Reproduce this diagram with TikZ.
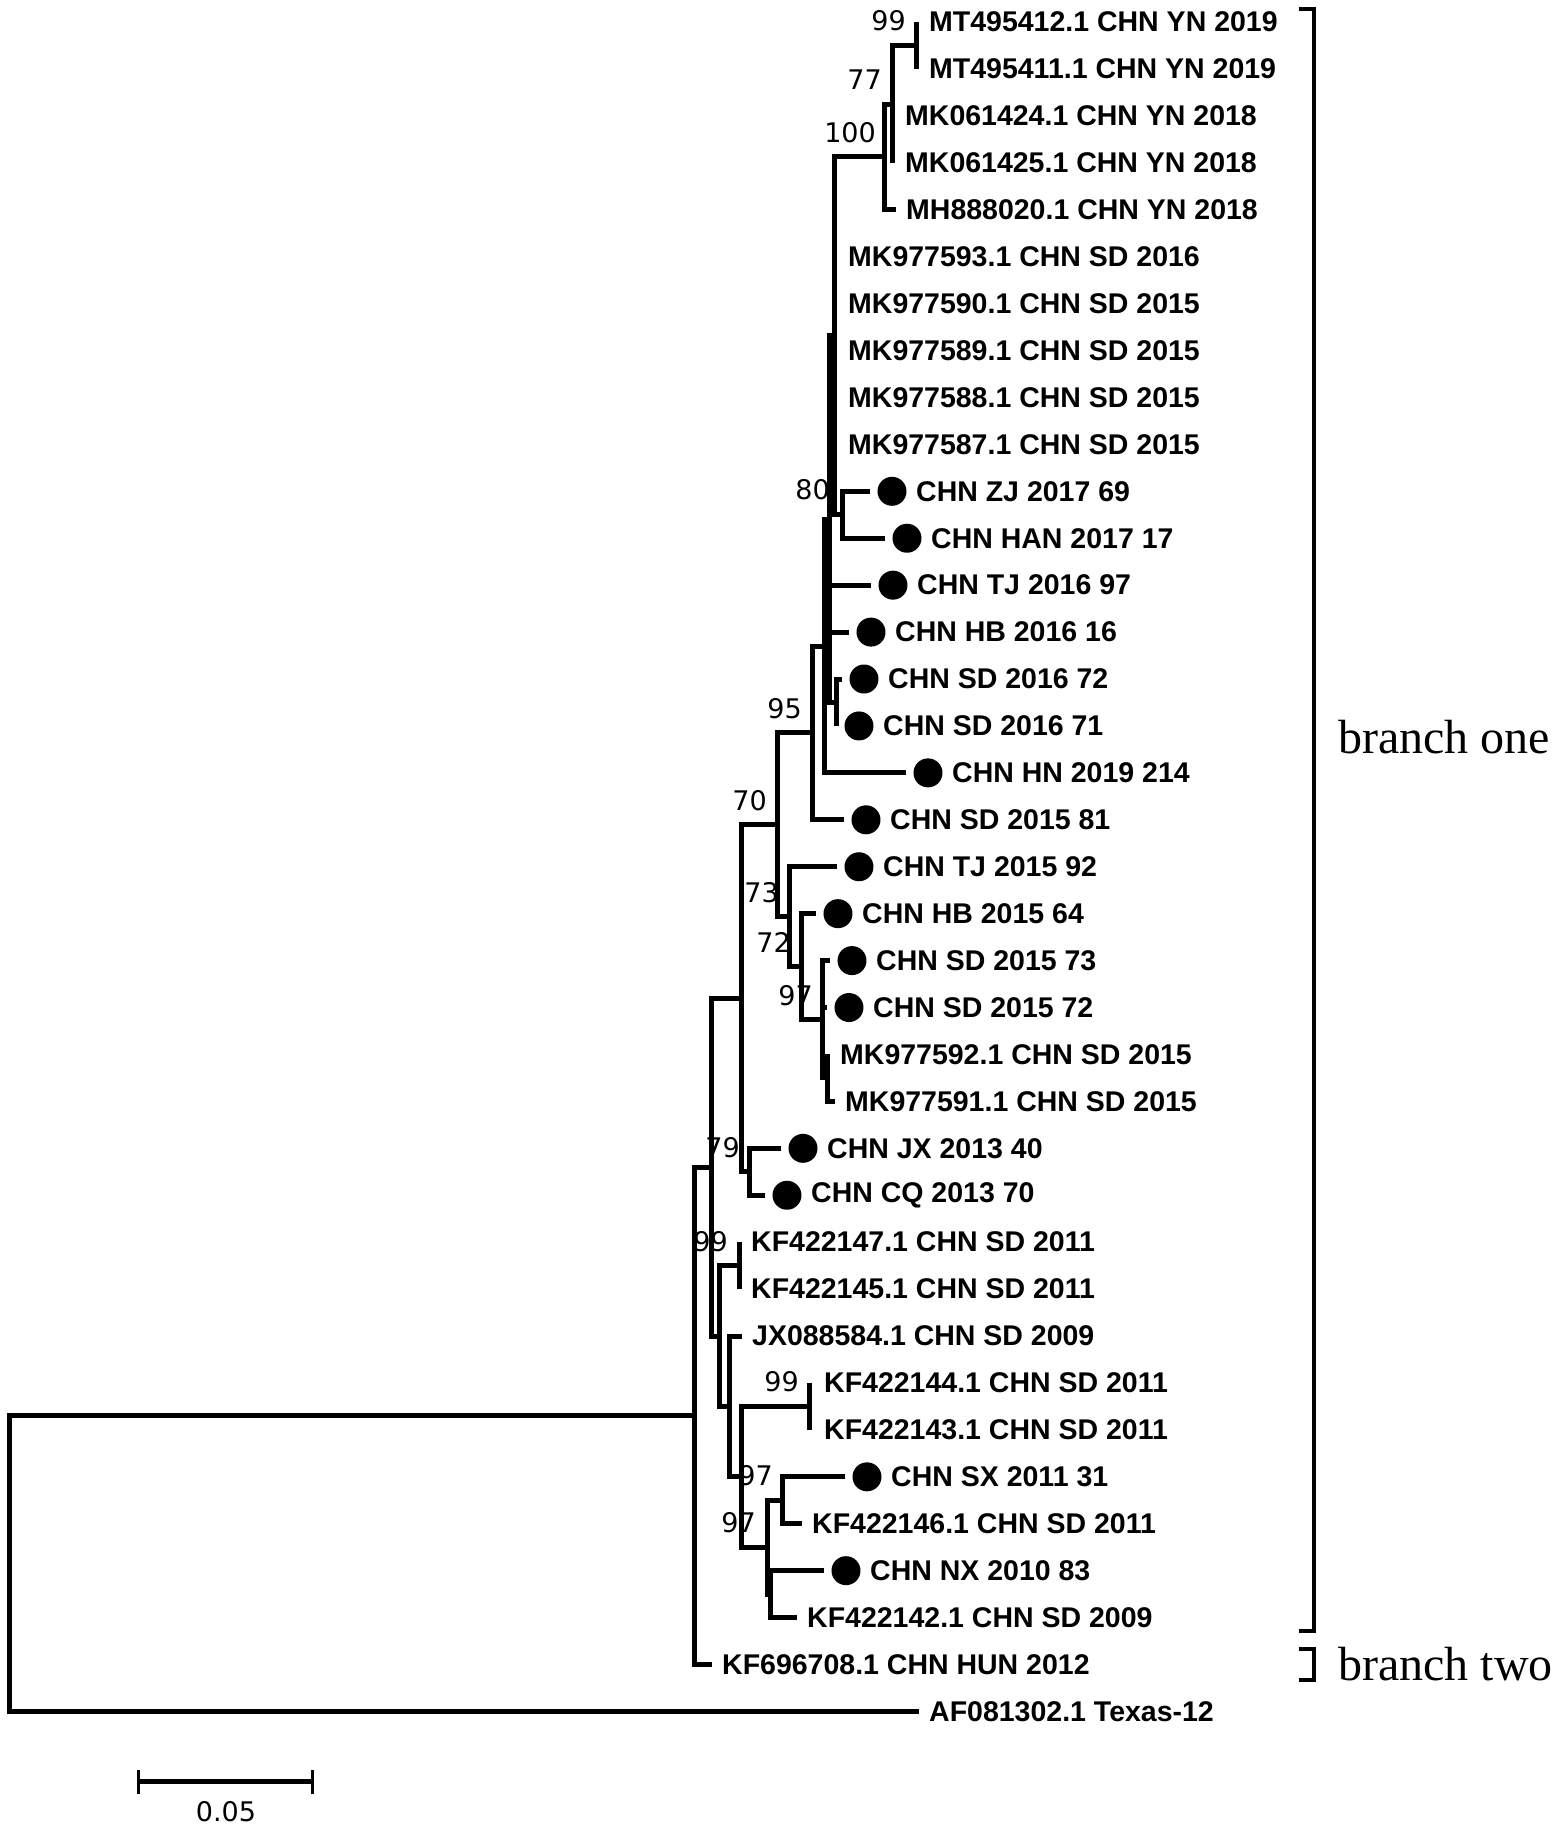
\documentclass[tikz,border=0pt]{standalone}
\usepackage{fontspec}
\usepackage{tikz}
\usetikzlibrary{positioning}
\newfontfamily\leaffont{Liberation Sans}
\newfontfamily\bootfont{DejaVu Sans}
\newfontfamily\brfont{Liberation Serif}

\begin{document}
\begin{tikzpicture}[x=1pt,y=-46.93pt,
	br/.style={line width=5pt,line join=miter},
	brk/.style={line width=4pt,line join=miter},
	tip/.style={anchor=west,inner xsep=10pt,inner ysep=0pt,
		font=\leaffont\bfseries\fontsize{28.5}{30}\selectfont},
	dot/.style={circle,fill=black,inner sep=0pt,minimum size=29pt,outer sep=7.5pt},
	dotlab/.style={inner sep=0pt,font=\leaffont\bfseries\fontsize{28.5}{30}\selectfont},
	boot/.style={anchor=south east,inner sep=0pt,font=\bootfont\fontsize{27}{28}\selectfont}]

	\useasboundingbox (0,-0.4688) rectangle (1559,38.526);

	% noeuds internes (x en px, y en lignes)
	\coordinate (root) at (10,32.85);
	\coordinate (nI) at (695,29.70);
	\coordinate (nK) at (712,24.40);
	\coordinate (nJ) at (742,20.80);
	\coordinate (n70) at (778,17.105);
	\coordinate (n95) at (813,15.148);
	\coordinate (nC) at (825,13.297);
	\coordinate (nF) at (830,10.594);
	\coordinate (nA) at (835,6.6875);
	\coordinate (n100) at (885,2.875);
	\coordinate (n77) at (893,1.75);
	\coordinate (n99) at (917,0.5);
	\coordinate (n80) at (843,10.5);
	\coordinate (nG) at (837,14.5);
	\coordinate (n73) at (790,19.0625);
	\coordinate (n72) at (802,20.125);
	\coordinate (n97) at (823,21.25);
	\coordinate (n9x) at (828,22.5);
	\coordinate (n79) at (750,24.5);
	\coordinate (nM) at (720,28);
	\coordinate (n99a) at (740,26.5);
	\coordinate (nN) at (730,29.5);
	\coordinate (nO) at (742,31);
	\coordinate (n99b) at (810,29.5);
	\coordinate (n97b) at (768,32.5);
	\coordinate (nP) at (783,31.5);
	\coordinate (nQ) at (771,33.5);

	% feuilles
	\node[tip,inner xsep=12pt] (mt412) at (917,0) {MT495412.1 CHN YN 2019};
	\node[tip,inner xsep=12pt] (mt411) at (917,1) {MT495411.1 CHN YN 2019};
	\node[tip,inner xsep=12pt] (mk424) at (893,2) {MK061424.1 CHN YN 2018};
	\node[tip,inner xsep=12pt] (mk425) at (893,3) {MK061425.1 CHN YN 2018};
	\node[tip] (mh020) at (896,4) {MH888020.1 CHN YN 2018};
	\node[tip,inner xsep=13pt] (mk593) at (835,5) {MK977593.1 CHN SD 2016};
	\node[tip,inner xsep=13pt] (mk590) at (835,6) {MK977590.1 CHN SD 2015};
	\node[tip,inner xsep=13pt] (mk589) at (835,7) {MK977589.1 CHN SD 2015};
	\node[tip,inner xsep=13pt] (mk588) at (835,8) {MK977588.1 CHN SD 2015};
	\node[tip,inner xsep=13pt] (mk587) at (835,9) {MK977587.1 CHN SD 2015};
	\node[dot] (zj69) at (892,10) {};
	\node[dotlab,right=2pt of zj69] (zj69t) {CHN ZJ 2017 69};
	\node[dot] (han17) at (907,11) {};
	\node[dotlab,right=2pt of han17] (han17t) {CHN HAN 2017 17};
	\node[dot] (tj97) at (893,12) {};
	\node[dotlab,right=2pt of tj97] (tj97t) {CHN TJ 2016 97};
	\node[dot] (hb16) at (871,13) {};
	\node[dotlab,right=2pt of hb16] (hb16t) {CHN HB 2016 16};
	\node[dot] (sd72a) at (864,14) {};
	\node[dotlab,right=2pt of sd72a] (sd72at) {CHN SD 2016 72};
	\node[dot] (sd71) at (859,15) {};
	\node[dotlab,right=2pt of sd71] (sd71t) {CHN SD 2016 71};
	\node[dot] (hn214) at (928,16) {};
	\node[dotlab,right=2pt of hn214] (hn214t) {CHN HN 2019 214};
	\node[dot] (sd81) at (866,17) {};
	\node[dotlab,right=2pt of sd81] (sd81t) {CHN SD 2015 81};
	\node[dot] (tj92) at (859,18) {};
	\node[dotlab,right=2pt of tj92] (tj92t) {CHN TJ 2015 92};
	\node[dot] (hb64) at (838,19) {};
	\node[dotlab,right=2pt of hb64] (hb64t) {CHN HB 2015 64};
	\node[dot] (sd73) at (852,20) {};
	\node[dotlab,right=2pt of sd73] (sd73t) {CHN SD 2015 73};
	\node[dot] (sd72b) at (849,21) {};
	\node[dotlab,right=2pt of sd72b] (sd72bt) {CHN SD 2015 72};
	\node[tip,inner xsep=12pt] (mk592) at (828,22) {MK977592.1 CHN SD 2015};
	\node[tip] (mk591) at (835,23) {MK977591.1 CHN SD 2015};
	\node[dot] (jx40) at (803,24) {};
	\node[dotlab,right=2pt of jx40] (jx40t) {CHN JX 2013 40};
	\node[dot] (cq70) at (787,25) {};
	\node[dotlab,right=2pt of cq70] (cq70t) {CHN CQ 2013 70};
	\node[tip,inner xsep=11pt] (kf147) at (740,26) {KF422147.1 CHN SD 2011};
	\node[tip,inner xsep=11pt] (kf145) at (740,27) {KF422145.1 CHN SD 2011};
	\node[tip] (jx584) at (742,28) {JX088584.1 CHN SD 2009};
	\node[tip,inner xsep=14pt] (kf144) at (810,29) {KF422144.1 CHN SD 2011};
	\node[tip,inner xsep=14pt] (kf143) at (810,30) {KF422143.1 CHN SD 2011};
	\node[dot] (sx31) at (867,31) {};
	\node[dotlab,right=2pt of sx31] (sx31t) {CHN SX 2011 31};
	\node[tip] (kf146) at (802,32) {KF422146.1 CHN SD 2011};
	\node[dot] (nx83) at (846,33) {};
	\node[dotlab,right=2pt of nx83] (nx83t) {CHN NX 2010 83};
	\node[tip] (kf142) at (797,34) {KF422142.1 CHN SD 2009};
	\node[tip] (kf708) at (712,35) {KF696708.1 CHN HUN 2012};
	\node[tip] (texas) at (919,36) {AF081302.1 Texas-12};

	% branches
	\draw[br] (root) |- (nI) (root) |- (texas);
	\draw[br] (nI) |- (nK) (nI) |- (kf708);
	\draw[br] (nK) |- (nJ) (nK) |- (nM);
	\draw[br] (nJ) |- (n70) (nJ) |- (n79);
	\draw[br] (n70) |- (n95) (n70) |- (n73);
	\draw[br] (n95) |- (nC) (n95) |- (sd81);
	\draw[br] (nC) |- (nF) (nC) |- (hn214);
	\draw[br] (nF) |- (nA) (nF) |- (tj97) (nF) |- (hb16) (nF) |- (nG);
	\draw[br] (nA) |- (n100) (nA) |- (mk593) (nA) |- (mk590) (nA) |- (mk589)
		(nA) |- (mk588) (nA) |- (mk587) (nA) |- (n80);
	\draw[br] (n100) |- (n77) (n100) |- (mh020);
	\draw[br] (n77) |- (n99) (n77) |- (mk424) (n77) |- (mk425);
	\draw[br] (n99) |- (mt412) (n99) |- (mt411);
	\draw[br] (n80) |- (zj69) (n80) |- (han17);
	\draw[br] (nG) |- (sd72a) (nG) |- (sd71);
	\draw[br] (n73) |- (tj92) (n73) |- (n72);
	\draw[br] (n72) |- (hb64) (n72) |- (n97);
	\draw[br] (n97) |- (sd73) (n97) |- (sd72b) (n97) |- (n9x);
	\draw[br] (n9x) |- (mk592) (n9x) |- (mk591);
	\draw[br] (n79) |- (jx40) (n79) |- (cq70);
	\draw[br] (nM) |- (n99a) (nM) |- (nN);
	\draw[br] (n99a) |- (kf147) (n99a) |- (kf145);
	\draw[br] (nN) |- (jx584) (nN) |- (nO);
	\draw[br] (nO) |- (n99b) (nO) |- (n97b);
	\draw[br] (n99b) |- (kf144) (n99b) |- (kf143);
	\draw[br] (n97b) |- (nP) (n97b) |- (nQ);
	\draw[br] (nP) |- (sx31) (nP) |- (kf146);
	\draw[br] (nQ) |- (nx83) (nQ) |- (kf142);

	% valeurs de bootstrap
	\node[boot] (b99) at ([xshift=-11pt,yshift=14pt]n99) {99};
	\node[boot] (b77) at ([xshift=-11pt,yshift=14pt]n77) {77};
	\node[boot] (b100) at ([xshift=-9pt,yshift=14pt]n100) {100};
	\node[boot] (b80) at ([xshift=-13pt,yshift=15pt]n80) {80};
	\node[boot] (b95) at ([xshift=-11pt,yshift=14pt]n95) {95};
	\node[boot] (b70) at ([xshift=-11pt,yshift=14pt]n70) {70};
	\node[boot] (b73) at ([xshift=-11pt,yshift=14pt]n73) {73};
	\node[boot] (b72) at ([xshift=-11pt,yshift=14pt]n72) {72};
	\node[boot] (b97) at ([xshift=-10pt,yshift=13pt]n97) {97};
	\node[boot] (b79) at ([xshift=-10pt,yshift=14pt]n79) {79};
	\node[boot] (b99a) at ([xshift=-12pt,yshift=14pt]n99a) {99};
	\node[boot] (b99b) at ([xshift=-11pt,yshift=14pt]n99b) {99};
	\node[boot] (b97p) at ([xshift=-10pt,yshift=14pt]nP) {97};
	\node[boot] (b97b) at ([xshift=-12pt,yshift=14pt]n97b) {97};

	% crochets des deux branches
	\coordinate (c1a) at (1299,-0.277);
	\coordinate (c1b) at (1299,34.285);
	\coordinate (c2a) at (1299,34.669);
	\coordinate (c2b) at (1299,35.330);
	\draw[brk] (c1a) -- ++(15,0) |- (c1b);
	\draw[brk] (c2a) -- ++(15,0) |- (c2b);
	\node[anchor=west,inner sep=0pt,font=\brfont\fontsize{48}{50}\selectfont] (one) at (1338,15.236) {branch one};
	\node[anchor=west,inner sep=0pt,font=\brfont\fontsize{48}{50}\selectfont] (two) at (1338,35) {branch two};

	% echelle
	\coordinate (sb0) at (139,37.5);
	\coordinate (sb1) at (313,37.5);
	\draw[br] (sb0) -- (sb1);
	\draw[line width=3pt] ([yshift=12pt]sb0) -- ([yshift=-12pt]sb0);
	\draw[line width=3pt] ([yshift=12pt]sb1) -- ([yshift=-12pt]sb1);
	\node[inner sep=0pt,font=\bootfont\fontsize{27}{28}\selectfont] (sblab) at (226,38.14) {0.05};
\end{tikzpicture}
\end{document}
